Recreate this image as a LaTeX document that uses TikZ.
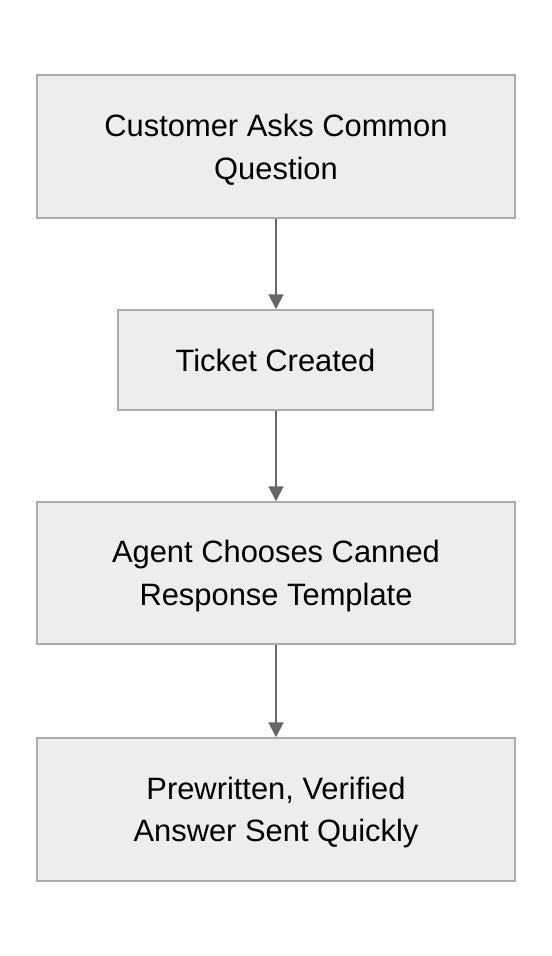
\documentclass[tikz,border=0pt]{standalone}
\usepackage{fontspec}
\setmainfont{Liberation Sans}
\usetikzlibrary{arrows.meta}
\begin{document}
\begin{tikzpicture}[x=1bp,y=-1bp,
  box/.style={draw=black!33, fill=black!7, line width=1.5bp, inner sep=0pt},
  txt/.style={inner sep=0pt, font=\fontsize{31}{43}\selectfont, align=center},
  link/.style={draw=black!60, line width=2bp, -{Triangle[length=15bp,width=15bp]}}]
\useasboundingbox (0,0) rectangle (552,956);
\node[box, minimum width=478bp, minimum height=143bp] (a) at (276,146.5) {};
\node[txt] (at) at ([yshift=-3bp]a.center) {Customer Asks Common\\Question};
\node[box, minimum width=315bp, minimum height=100bp] (b) at (275.5,360) {};
\node[txt] (bt) at (b.center) {Ticket Created};
\node[box, minimum width=478bp, minimum height=142bp] (c) at (276,573) {};
\node[txt] (ct) at ([yshift=-3bp]c.center) {Agent Chooses Canned\\Response Template};
\node[box, minimum width=478bp, minimum height=143bp] (d) at (276,809.5) {};
\node[txt] (dt) at ([yshift=-3bp]d.center) {Prewritten, Verified\\Answer Sent Quickly};
\draw[link] (a.south -| 276,0) -- (b.north -| 276,0);
\draw[link] (b.south -| 276,0) -- (c.north -| 276,0);
\draw[link] (c.south -| 276,0) -- (d.north -| 276,0);
\end{tikzpicture}
\end{document}
